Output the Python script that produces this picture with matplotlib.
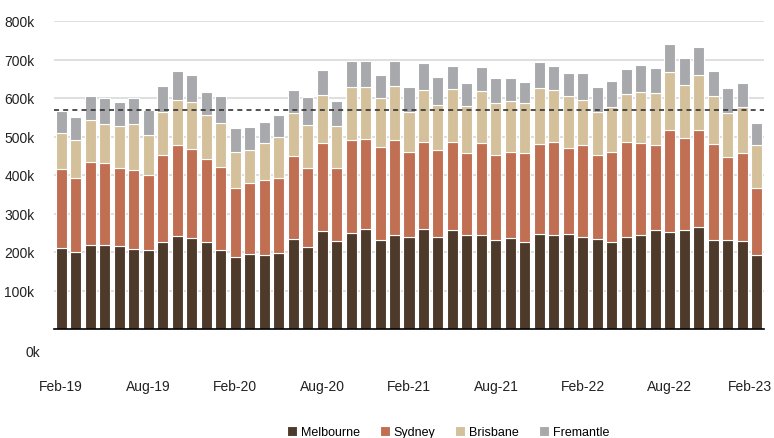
import matplotlib
matplotlib.use("Agg")
import matplotlib.pyplot as plt
import matplotlib.transforms as mtransforms
import numpy as np

plt.rcParams['font.family'] = ['Liberation Sans', 'DejaVu Sans']

months = ["Feb-19", "Mar-19", "Apr-19", "May-19", "Jun-19", "Jul-19", "Aug-19", "Sep-19",
          "Oct-19", "Nov-19", "Dec-19", "Jan-20", "Feb-20", "Mar-20", "Apr-20", "May-20",
          "Jun-20", "Jul-20", "Aug-20", "Sep-20", "Oct-20", "Nov-20", "Dec-20", "Jan-21",
          "Feb-21", "Mar-21", "Apr-21", "May-21", "Jun-21", "Jul-21", "Aug-21", "Sep-21",
          "Oct-21", "Nov-21", "Dec-21", "Jan-22", "Feb-22", "Mar-22", "Apr-22", "May-22",
          "Jun-22", "Jul-22", "Aug-22", "Sep-22", "Oct-22", "Nov-22", "Dec-22", "Jan-23",
          "Feb-23"]

# values in thousands
melbourne = [211, 200, 219, 219, 216, 207, 205, 227, 242, 236, 225, 205, 188, 194, 193, 197,
             233, 214, 255, 228, 250, 261, 231, 244, 238, 259, 238, 258, 244, 244, 231, 237,
             225, 248, 244, 247, 240, 234, 226, 240, 245, 256, 253, 258, 266, 230, 230, 228,
             193]
sydney = [204, 193, 216, 213, 201, 207, 194, 224, 235, 232, 217, 215, 177, 184, 195, 195,
          216, 204, 229, 191, 240, 232, 241, 246, 223, 226, 227, 227, 213, 240, 221, 223,
          233, 232, 242, 223, 237, 219, 234, 245, 238, 221, 265, 239, 252, 250, 216, 230,
          174]
brisbane = [94, 97, 109, 100, 110, 119, 106, 113, 118, 121, 113, 116, 95, 88, 94, 107,
            111, 112, 125, 108, 138, 136, 127, 141, 103, 136, 118, 138, 122, 135, 134, 132,
            128, 145, 135, 135, 118, 110, 117, 125, 133, 135, 149, 138, 143, 126, 116, 118,
            110]
fremantle = [57, 61, 61, 67, 62, 66, 65, 67, 76, 70, 60, 70, 63, 59, 56, 57,
             62, 72, 64, 65, 69, 68, 62, 66, 64, 69, 72, 60, 61, 61, 65, 59,
             55, 68, 62, 61, 71, 66, 68, 65, 70, 65, 73, 70, 71, 64, 65, 64,
             59]
average_line = 570

series_names = ["Melbourne", "Sydney", "Brisbane", "Fremantle"]
series_vals = [melbourne, sydney, brisbane, fremantle]
colors = ["#4d3a2b", "#c06f52", "#d4c09b", "#a8a9ad"]

fig = plt.figure(figsize=(7.74, 4.39), dpi=100)
W, H = 774, 439
ax = fig.add_axes([54 / W, (H - 330) / H, (764 - 54) / W, (330 - 22) / H])

x = np.arange(len(months))
bottom = np.zeros(len(months))
handles = []
for name, vals, c in zip(series_names, series_vals, colors):
    v = np.array(vals, dtype=float) * 1000
    b = ax.bar(x, v, bottom=bottom, width=0.76, color=c, edgecolor="white",
               linewidth=0.8, label=name, zorder=2)
    handles.append(b)
    bottom += v

ax.axhline(average_line * 1000, color="#333333", linestyle=(0, (3, 2.5)), linewidth=1.2, zorder=3)

ax.set_xlim(-0.5, len(months) - 0.5)
ax.set_ylim(0, 800000)
yt = np.arange(100000, 800001, 100000)
ax.set_yticks(yt)
ax.set_yticklabels([f"{int(t/1000)}k" for t in yt])
ax.yaxis.grid(True, color="#d9d9d9", linewidth=1.2, zorder=0)
ax.set_axisbelow(True)
for s in ["top", "right", "left"]:
    ax.spines[s].set_visible(False)
ax.spines["bottom"].set_color("black")
ax.spines["bottom"].set_linewidth(1.2)
ax.spines["bottom"].set_zorder(4)
ax.tick_params(axis="y", length=0, pad=14, labelsize=10, labelcolor="#222222")

xt = x[::6]
ax.set_xticks(xt)
ax.set_xticklabels([months[i] for i in xt])
ax.tick_params(axis="x", length=0, pad=36, labelsize=10, labelcolor="#222222")

# keep the last label inside the figure
last = ax.get_xticklabels()[-1]
last.set_transform(last.get_transform() +
                   mtransforms.ScaledTranslation(-7 / 100, 0, fig.dpi_scale_trans))

# 0k label sits below the baseline
trans = mtransforms.blended_transform_factory(ax.transAxes, ax.transData)
ax.text(-14 / (764 - 54), -60000, "0k", transform=trans, ha="right", va="center",
        fontsize=10, color="#222222", clip_on=False)

fig.legend(handles=handles, labels=series_names, loc="center", ncol=4,
           bbox_to_anchor=(448 / W, 1 - 433 / H), frameon=False, fontsize=9,
           handlelength=0.8, handleheight=0.8, handletextpad=0.3, columnspacing=1.6,
           borderaxespad=0)

fig.savefig("out.png", dpi=100)
